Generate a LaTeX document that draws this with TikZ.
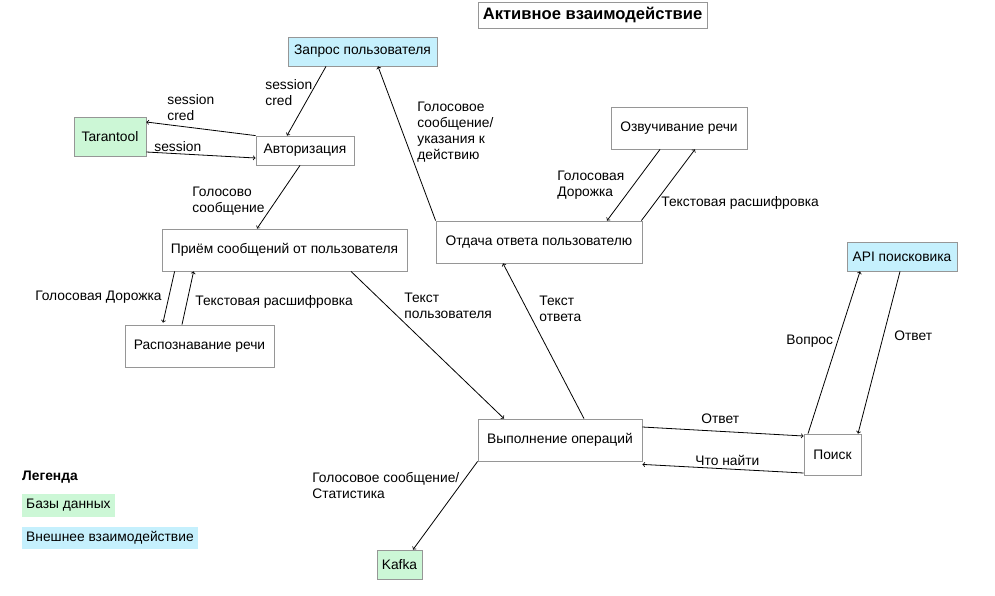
\documentclass[tikz,border=0pt]{standalone}
\usepackage{fontspec}
\setmainfont{Liberation Sans}
\definecolor{dbgreen}{RGB}{204,247,214}
\definecolor{extblue}{RGB}{197,240,253}
\definecolor{boxgray}{RGB}{150,150,150}
\begin{document}
\begin{tikzpicture}[x=1pt,y=-1pt,font=\fontsize{13.8}{16}\selectfont]
\tikzstyle{box}=[draw=boxgray,fill=white,inner sep=0pt,line width=0.8pt]
\tikzstyle{db}=[box,fill=dbgreen]
\tikzstyle{ext}=[box,fill=extblue]
\tikzstyle{lbl}=[inner sep=0pt,anchor=west,align=left]
\tikzstyle{flow}=[->,line width=0.8pt]
\useasboundingbox (0,0) rectangle (995,595);
\node[box,minimum width=229pt,minimum height=26pt,font=\fontsize{16.6}{18}\selectfont\bfseries] (title) at (592.5,15) {Активное взаимодействие};
\node[ext,minimum width=149pt,minimum height=29pt] (zapros) at (362.5,51.5) {Запрос пользователя};
\node[db,minimum width=72pt,minimum height=39pt] (tarantool) at (110,136.5) {Tarantool};
\node[box,minimum width=98pt,minimum height=29pt] (avt) at (305,150.5) {Авторизация};
\node[box,minimum width=245pt,minimum height=42pt] (priem) at (284.5,250) {Приём сообщений от пользователя};
\node[box,minimum width=149pt,minimum height=42pt] (raspozn) at (199.5,346) {Распознавание речи};
\node[box,minimum width=206pt,minimum height=42pt] (otdacha) at (539,242) {Отдача ответа пользователю};
\node[box,minimum width=136pt,minimum height=42pt] (ozvuch) at (679,128) {Озвучивание речи};
\node[ext,minimum width=110pt,minimum height=29pt] (api) at (902,256.5) {API поисковика};
\node[box,minimum width=164pt,minimum height=42pt] (vyp) at (560,440) {Выполнение операций};
\node[box,minimum width=57pt,minimum height=41pt] (poisk) at (832.5,454.5) {Поиск};
\node[db,minimum width=45pt,minimum height=29pt] (kafka) at (399.5,564.5) {Kafka};
% legend
\node[lbl,font=\fontsize{13.8}{16}\selectfont\bfseries] (legend) at (22,477) {Легенда};
\node[fill=dbgreen,anchor=west,inner xsep=4pt,inner ysep=0pt,minimum height=23pt] (legdb) at (22,505.5) {Базы данных};
\node[fill=extblue,anchor=west,inner xsep=4pt,inner ysep=0pt,minimum height=22pt] (legext) at (22,538) {Внешнее взаимодействие};
% authorization
\draw[flow] ([xshift=-36.5pt]zapros.south) -- ([xshift=-18pt]avt.north)
  node[lbl] (l-cred) at (265,92.5) {session\\cred};
\draw[flow] (avt.north west) -- ([yshift=14.5pt]tarantool.east)
  node[lbl] (l-cred') at (167,108) {session\\cred};
\draw[flow] ([yshift=-15.5pt]tarantool.east) -- ([yshift=-7.5pt]avt.west)
  node[lbl] (l-sess) at (154,147) {session};
\draw[flow] ([xshift=-5pt]avt.south) -- ([xshift=-27.5pt]priem.north)
  node[lbl] (l-voice) at (192,201) {Голосово\\сообщение};
% recognition
\draw[flow] ([xshift=13pt]priem.south west) -- ([xshift=-36.5pt,yshift=2pt]raspozn.north)
  node[lbl,anchor=east] (l-track) at (162,297) {Голосовая Дорожка};
\draw[flow] ([xshift=-17.5pt]raspozn.north) -- ([xshift=32pt]priem.south west)
  node[lbl] (l-text) at (195,302) {Текстовая расшифровка};
% processing
\draw[flow] ([xshift=66.5pt]priem.south) -- ([xshift=-56pt]vyp.north)
  node[lbl] (l-utext) at (404,306) {Текст\\пользователя};
\draw[flow] ([xshift=24pt]vyp.north) -- ([xshift=-36pt]otdacha.south)
  node[lbl] (l-atext) at (539,309) {Текст\\ответа};
\draw[flow] (otdacha.north west) -- ([xshift=15.5pt]zapros.south)
  node[lbl] (l-reply) at (417,132) {Голосовое\\сообщение/\\указания к\\действию};
% speech synthesis
\draw[flow] ([xshift=-19pt]ozvuch.south) -- ([xshift=68pt]otdacha.north)
  node[lbl] (l-track') at (557,185.5) {Голосовая\\Дорожка};
\draw[flow] ([xshift=-1pt]otdacha.north east) -- ([xshift=16pt]ozvuch.south)
  node[lbl] (l-text') at (661,203) {Текстовая расшифровка};
% search
\draw[flow] ([yshift=13pt]vyp.east) -- ([yshift=18.5pt]poisk.west)
  node[lbl] (l-ans) at (701,419) {Ответ};
\draw[flow] ([yshift=-18.5pt]poisk.west) -- ([yshift=-3pt]vyp.south east)
  node[lbl] (l-find) at (695,460) {Что найти};
\draw[flow] ([xshift=-24.5pt]poisk.north) -- ([xshift=-42pt]api.south)
  node[lbl] (l-ask) at (786,341) {Вопрос};
\draw[flow] ([xshift=-2pt]api.south) -- ([xshift=25.5pt]poisk.north)
  node[lbl] (l-ans') at (894,336) {Ответ};
\draw[flow] (vyp.south west) -- ([xshift=13.5pt]kafka.north)
  node[lbl] (l-stat) at (312,485) {Голосовое сообщение/\\Статистика};
\end{tikzpicture}
\end{document}
